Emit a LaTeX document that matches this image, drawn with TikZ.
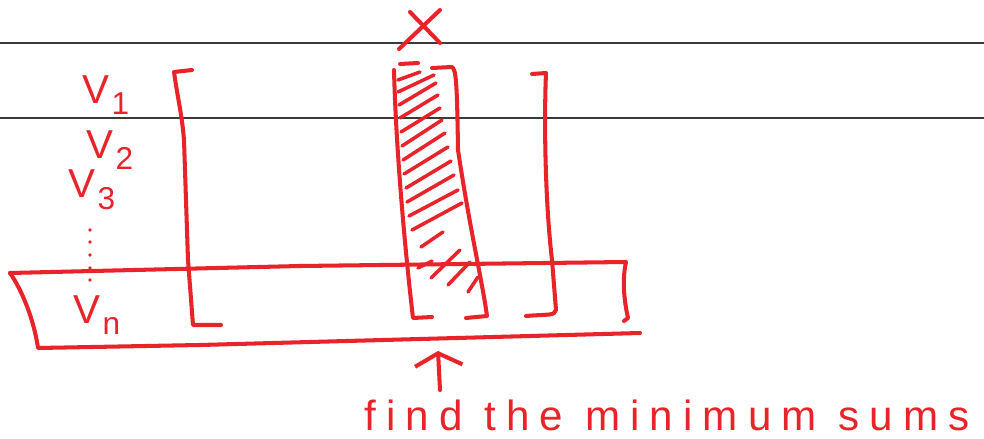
\documentclass[tikz,border=0pt]{standalone}
\usepackage{fontspec}
\setmainfont{Liberation Sans}
\usetikzlibrary{arrows.meta}
\definecolor{ink}{HTML}{E8232A}
\definecolor{rule}{HTML}{3A3A3A}
\tikzset{
  pen/.style={draw=ink, line width=2.3pt, line cap=round, line join=round},
  hatch/.style={draw=ink, line width=2pt, line cap=round},
  ruling/.style={draw=rule, line width=0.6pt},
  vlab/.style={text=ink, font=\fontsize{23}{25}\selectfont, inner sep=0pt},
  note/.style={text=ink, font=\fontsize{24}{26}\selectfont\addfontfeatures{LetterSpace=24}, inner sep=0pt}
}
\newcommand{\vsub}[1]{V\kern1pt\raisebox{-0.55ex}{\fontsize{18}{19}\selectfont #1}}
\begin{document}
\begin{tikzpicture}[x=0.02cm, y=-0.02cm]
\useasboundingbox (0,0) rectangle (984,439);
% ruled lines
\coordinate (r1a) at (0,43); \coordinate (r1b) at (984,43);
\coordinate (r2a) at (0,118); \coordinate (r2b) at (984,118);
\draw[ruling] (r1a) -- (r1b);
\draw[ruling] (r2a) -- (r2b);
% X mark
\draw[pen] (410,12) -- (440,43);
\draw[pen] (440,10) -- (399,49);
% labels
\node[vlab] (v1) at (106,95) {\vsub{1}};
\node[vlab] (v2) at (110,150) {\vsub{2}};
\node[vlab] (v3) at (92,190) {\vsub{3}};
\foreach \yy in {230,242,255,268,280}{\fill[ink] (90,\yy) circle (1.8);}
\node[vlab] (vn) at (97,315) {\vsub{n}};
% left bracket
\draw[pen] (192,70) -- (174,72) .. controls (178,100) and (182,115) .. (184,140) -- (188,260) -- (193,325) -- (221,325);
% right bracket
\draw[pen] (532,74) -- (546,73) .. controls (544,120) and (545,200) .. (552,260) -- (556,310) .. controls (554,316) and (550,314) .. (526,316);
% middle column outline
\draw[pen] (418,63) -- (400,64);
\draw[pen] (394,70) .. controls (396,150) and (405,250) .. (413,318) -- (432,317);
\draw[pen] (432,68) -- (452,67) .. controls (456,70) and (457,80) .. (458,150) .. controls (470,230) and (482,280) .. (487,316) -- (466,318);
% hatching
\foreach \ya/\xa/\yb/\xb in {
  80/398/72/420, 92/398/75/434, 105/399/83/436, 118/400/95/438,
  132/401/108/440, 146/402/120/442, 160/403/133/445, 174/404/147/448,
  188/406/161/451, 202/407/175/454, 216/409/190/458, 230/412/203/462,
  247/421/232/443, 268/418/261/432, 278/431/250/460, 285/448/262/470, 292/468/277/478}
  {\draw[hatch] (\xa,\ya) -- (\xb,\yb);}
% wide lower box
\draw[pen] (10,273) -- (300,266) -- (626,262) .. controls (622,280) and (624,300) .. (628,318) -- (624,321);
\draw[pen] (10,273) .. controls (22,290) and (34,320) .. (38,348) -- (200,345) -- (640,333);
% arrow
\coordinate (atail) at (440,390);
\coordinate (ahead) at (438,351);
\draw[pen, -{Straight Barb[length=7pt,width=27pt,line width=2.3pt]}] (atail) -- (ahead);
% note
\node[note, anchor=base west] (note) at (364,430) {find the minimum sums};
\end{tikzpicture}
\end{document}
